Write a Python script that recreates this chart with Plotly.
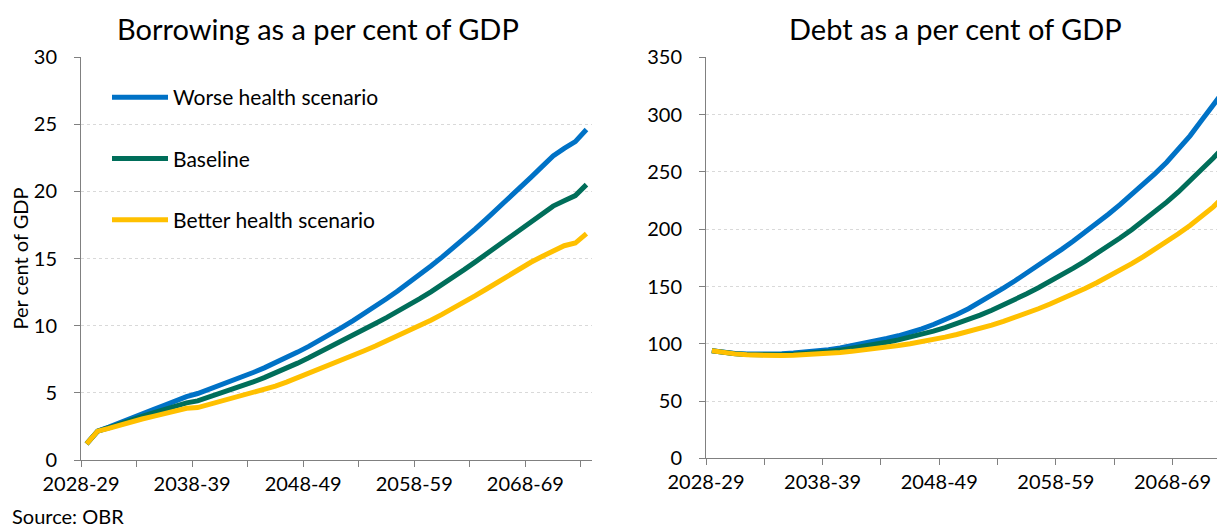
import plotly.graph_objects as go

years = [f"{y}-{str(y + 1)[-2:]}" for y in range(2028, 2074)]

borrow_worse = [1.2, 2.15, 2.45, 2.8, 3.12, 3.43, 3.75, 4.07, 4.4, 4.72, 4.95, 5.25, 5.55, 5.86, 6.18,
                6.51, 6.86, 7.23, 7.62, 8.03, 8.46, 8.91, 9.38, 9.87, 10.38, 10.9, 11.44, 12.0, 12.58, 13.18,
                13.8, 14.44, 15.1, 15.78, 16.49, 17.21, 17.95, 18.7, 19.47, 20.25, 21.04, 21.84, 22.64, 23.2,
                23.7, 24.6]
borrow_base = [1.2, 2.15, 2.4, 2.7, 2.95, 3.25, 3.5, 3.75, 4.0, 4.25, 4.4, 4.67, 4.94, 5.22, 5.51,
               5.81, 6.13, 6.47, 6.83, 7.21, 7.61, 8.02, 8.44, 8.87, 9.31, 9.73, 10.16, 10.6, 11.05, 11.52,
               12.01, 12.52, 13.05, 13.6, 14.17, 14.75, 15.34, 15.94, 16.55, 17.17, 17.79, 18.38, 18.9, 19.3,
               19.68, 20.5]
borrow_better = [1.2, 2.15, 2.35, 2.6, 2.85, 3.05, 3.25, 3.45, 3.65, 3.85, 3.9, 4.12, 4.34, 4.56, 4.79,
                 5.02, 5.26, 5.5, 5.8, 6.12, 6.45, 6.79, 7.12, 7.45, 7.78, 8.13, 8.48, 8.85, 9.22, 9.6,
                 10.0, 10.41, 10.84, 11.28, 11.75, 12.23, 12.73, 13.24, 13.75, 14.25, 14.72, 15.15, 15.55, 15.95,
                 16.15, 16.85]

debt_worse = [94.0, 92.6, 91.6, 91.0, 90.8, 90.9, 91.3, 91.9, 92.7, 93.7, 94.9, 96.4, 98.2, 100.2, 102.4,
              104.6, 107.0, 109.8, 113.0, 116.8, 121.0, 125.6, 130.6, 136.2, 142.2, 148.5, 155.0, 161.6,
              168.4, 175.4, 182.4, 189.7, 197.2, 205.0, 213.0, 221.4, 230.0, 239.0, 248.5, 258.5, 269.5,
              281.5, 295.0, 308.5, 322.0, 335.5]
debt_base = [94.0, 92.5, 91.4, 90.7, 90.3, 90.2, 90.4, 90.9, 91.5, 92.3, 93.3, 94.5, 96.0, 97.6, 99.4,
             101.3, 103.4, 105.7, 108.3, 111.1, 114.2, 117.5, 121.1, 125.0, 129.3, 133.8, 138.6, 143.6,
             148.9, 154.4, 160.1, 166.0, 172.2, 178.6, 185.3, 192.3, 199.6, 207.2, 215.2, 223.6, 232.5,
             242.0, 252.0, 262.2, 273.0, 283.5]
debt_better = [94.0, 92.4, 91.2, 90.4, 89.9, 89.7, 89.7, 89.9, 90.3, 90.9, 91.6, 92.4, 93.4, 94.5, 95.7,
               97.0, 98.5, 100.1, 101.8, 103.7, 105.8, 108.1, 110.6, 113.3, 116.3, 119.5, 123.0, 126.7,
               130.6, 134.7, 139.0, 143.5, 148.3, 153.3, 158.6, 164.1, 169.9, 176.0, 182.4, 189.1, 196.0,
               203.3, 211.0, 219.5, 229.5, 238.0]

series_names = ["Worse health scenario", "Baseline", "Better health scenario"]
colors = ["#0072C6", "#006E5A", "#FFC000"]
label_step = 10

# page body has an 8px margin: figure is sized to fill the visible window
OFF = 8
W, H = 1225 - OFF, 527 - OFF
FONT = "Lato"
idx = list(range(len(years)))


def px(X):
    return (X - OFF) / W


def py(Y):
    return (H - (Y - OFF)) / H


fig = go.Figure()
for k, (name, ys, col) in enumerate(zip(series_names, [borrow_worse, borrow_base, borrow_better], colors)):
    fig.add_trace(go.Scatter(x=idx, y=ys, mode="lines", name=name, line=dict(color=col, width=5),
                             xaxis="x", yaxis="y", legendgroup=str(k), showlegend=True))
for k, (name, ys, col) in enumerate(zip(series_names, [debt_worse, debt_base, debt_better], colors)):
    fig.add_trace(go.Scatter(x=idx, y=ys, mode="lines", name=name, line=dict(color=col, width=5),
                             xaxis="x2", yaxis="y2", legendgroup=str(k), showlegend=False))

# labels sit on the category boundaries (tick marks), as in the source chart
tickvals = [i - 0.5 for i in idx[::label_step]]
ticktext = years[::label_step]

xcommon = dict(tickmode="array", tickvals=tickvals, ticktext=ticktext, ticks="", showgrid=False,
               showline=True, linecolor="#808080", linewidth=1, automargin=False, ticklabelstandoff=6,
               tickfont=dict(family=FONT, size=20, color="#000"),
               minor=dict(ticks="outside", tick0=-0.5, dtick=5, ticklen=6, tickcolor="#808080", showgrid=False),
               zeroline=False, fixedrange=True)
ycommon = dict(showline=True, linecolor="#808080", linewidth=1, ticks="outside", ticklen=6, automargin=False,
               tickcolor="#808080", showgrid=True, gridcolor="#D9D9D9", griddash="dot", gridwidth=1,
               ticklabelstandoff=13,
               tickfont=dict(family=FONT, size=20, color="#000"), zeroline=False)

fig.update_layout(
    width=W, height=H,
    margin=dict(l=0, r=0, t=0, b=0),
    paper_bgcolor="white", plot_bgcolor="white",
    xaxis=dict(domain=[px(81), px(592)], range=[-0.5, 45.5], anchor="y", **xcommon),
    yaxis=dict(domain=[py(460), py(57)], range=[0, 30], dtick=5, anchor="x",
               title=dict(text="Per cent of GDP", font=dict(family=FONT, size=20, color="#000"), standoff=1),
               **ycommon),
    xaxis2=dict(domain=[px(706), 1.0], range=[-0.5, 44.0], anchor="y2", **xcommon),
    yaxis2=dict(domain=[py(458.4), py(57.3)], range=[0, 350], dtick=50, anchor="x2", **ycommon),
    showlegend=True,
    legend=dict(x=px(107), y=py(77), xanchor="left", yanchor="top", bgcolor="rgba(0,0,0,0)",
                font=dict(family=FONT, size=21, color="#000"), tracegroupgap=31, traceorder="grouped",
                itemwidth=56),
    annotations=[
        dict(text="Borrowing as a per cent of GDP", x=px(318), y=py(28), xref="paper", yref="paper",
             showarrow=False, font=dict(family=FONT, size=29, color="#000"), xanchor="center", yanchor="middle"),
        dict(text="Debt as a per cent of GDP", x=px(955), y=py(28), xref="paper", yref="paper",
             showarrow=False, font=dict(family=FONT, size=29, color="#000"), xanchor="center", yanchor="middle"),
        dict(text="Source: OBR", x=px(10), y=py(516), xref="paper", yref="paper",
             showarrow=False, font=dict(family=FONT, size=20, color="#000"), xanchor="left", yanchor="middle"),
    ],
)

fig.write_html("out.html")
